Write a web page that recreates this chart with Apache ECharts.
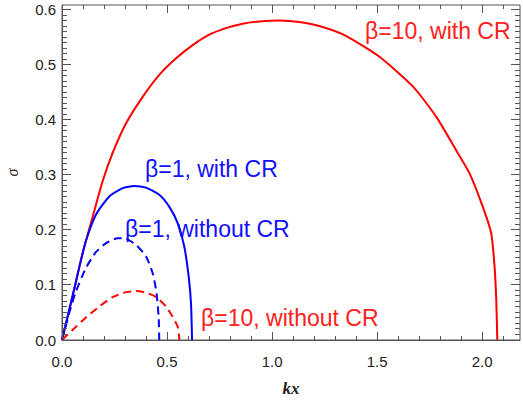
<!DOCTYPE html>
<html>
<head>
<meta charset="utf-8">
<script src="https://cdn.jsdelivr.net/npm/echarts@6/dist/echarts.min.js"></script>
<style>
  html, body { margin: 0; padding: 0; background: #fff; }
  #main { width: 523px; height: 403px; }
</style>
</head>
<body>
<div id="main"></div>
<script>
// values
var xTicks = [0.0, 0.5, 1.0, 1.5, 2.0];
var yTicks = [0.0, 0.1, 0.2, 0.3, 0.4, 0.5, 0.6];

var b10CR_x = [0, 0.035, 0.065, 0.098, 0.146, 0.193, 0.241, 0.305, 0.384, 0.463, 0.543, 0.622, 0.701, 0.780, 0.860, 0.940, 1.035, 1.13, 1.24, 1.351, 1.511, 1.670, 1.781, 1.876, 1.940, 2.003, 2.043, 2.059, 2.067, 2.072];
var b10CR_y = [0, 0.055, 0.103, 0.158, 0.224, 0.288, 0.340, 0.394, 0.442, 0.482, 0.512, 0.536, 0.555, 0.567, 0.575, 0.579, 0.581, 0.578, 0.569, 0.553, 0.515, 0.461, 0.406, 0.345, 0.303, 0.242, 0.194, 0.133, 0.073, 0];

var b1CR_x = [0, 0.050, 0.082, 0.114, 0.162, 0.225, 0.289, 0.344, 0.400, 0.463, 0.511, 0.551, 0.582, 0.603, 0.614, 0.619];
var b1CR_y = [0, 0.080, 0.132, 0.180, 0.228, 0.261, 0.276, 0.280, 0.277, 0.264, 0.242, 0.212, 0.170, 0.115, 0.067, 0];

var b1No_x = [0, 0.035, 0.066, 0.114, 0.162, 0.210, 0.265, 0.305, 0.352, 0.400, 0.432, 0.450, 0.460, 0.463];
var b1No_y = [0, 0.050, 0.088, 0.131, 0.160, 0.176, 0.185, 0.184, 0.173, 0.152, 0.121, 0.085, 0.042, 0];

var b10No_x = [0, 0.050, 0.114, 0.178, 0.241, 0.305, 0.352, 0.400, 0.448, 0.495, 0.527, 0.551, 0.559];
var b10No_y = [0, 0.018, 0.041, 0.061, 0.078, 0.087, 0.089, 0.086, 0.078, 0.061, 0.042, 0.024, 0];

var XMAX = 2.18, YMAX = 0.609;
var frameColor = '#555';

// minor tick positions (every 0.1 on x, every 0.01 on y)
var xMinor = [], yMinor = [];
for (var i = 0; i <= 21; i++) xMinor.push(i / 10);
for (var j = 0; j <= 60; j++) yMinor.push(j / 100);

function pairs(xs, ys) {
    var out = [];
    for (var i = 0; i < xs.length; i++) out.push([xs[i], ys[i]]);
    return out;
}
function isMajor(v, list) {
    for (var i = 0; i < list.length; i++) {
        if (Math.abs(list[i] - v) < 1e-6) return true;
    }
    return false;
}
function fmt(list) {
    return function (v) {
        for (var i = 0; i < list.length; i++) {
            if (Math.abs(list[i] - v) < 1e-6) return list[i].toFixed(1);
        }
        return '';
    };
}

function line(name, xs, ys, color, dashed) {
    return {
        name: name, type: 'line', xAxisIndex: 0, yAxisIndex: 0,
        data: pairs(xs, ys), showSymbol: false, smooth: 0.2,
        lineStyle: { color: color, width: 2, type: dashed ? [8, 5] : 'solid' },
        itemStyle: { color: color }, z: 3
    };
}

// inward ticks on all four sides, drawn through the axis scales
function tickSeries(values, isX) {
    return {
        type: 'custom', xAxisIndex: 0, yAxisIndex: 0, silent: true, clip: false, z: 4,
        data: values.map(function (v) { return isX ? [v, 0] : [0, v]; }),
        encode: { x: 0, y: 1 },
        renderItem: function (params, api) {
            var v = isX ? api.value(0) : api.value(1);
            var fill = { fill: frameColor };
            if (isX) {
                var len = isMajor(v, xTicks) ? 8 : 4;
                var pb = api.coord([v, 0]);
                var pt = api.coord([v, YMAX]);
                var px = Math.floor(pb[0]);
                return { type: 'group', children: [
                    { type: 'rect', shape: { x: px, y: pb[1] - len, width: 1, height: len }, style: fill },
                    { type: 'rect', shape: { x: px, y: pt[1], width: 1, height: len }, style: fill }
                ] };
            }
            var ylen = isMajor(v, yTicks) ? 9 : 5;
            var pl = api.coord([0, v]);
            var pr = api.coord([XMAX, v]);
            var py = Math.floor(pl[1]);
            return { type: 'group', children: [
                { type: 'rect', shape: { x: pl[0], y: py, width: ylen, height: 1 }, style: fill },
                { type: 'rect', shape: { x: pr[0] - ylen, y: py, width: ylen, height: 1 }, style: fill }
            ] };
        }
    };
}

var myChart = echarts.init(document.getElementById('main'), null, { renderer: 'svg' });
var option = {
    animation: false,
    grid: {
        left: 62, right: 3, top: 5, bottom: 63, containLabel: false, outerBoundsMode: 'none',
        show: true, borderColor: frameColor, borderWidth: 1, backgroundColor: 'transparent'
    },
    xAxis: {
        type: 'value', min: 0, max: XMAX, interval: 0.5,
        axisLine: { show: true, onZero: false, lineStyle: { color: frameColor, width: 1 } },
        axisTick: { show: false },
        axisLabel: { show: true, margin: 14, fontSize: 15, color: '#222', fontFamily: 'Liberation Sans', showMaxLabel: false, formatter: fmt(xTicks) },
        splitLine: { show: false },
        name: 'kx', nameLocation: 'middle', nameGap: 40,
        nameTextStyle: { fontFamily: 'Liberation Serif', fontStyle: 'italic', fontWeight: 'bold', fontSize: 17, color: '#222' }
    },
    yAxis: {
        type: 'value', min: 0, max: YMAX, interval: 0.1,
        axisLine: { show: true, onZero: false, lineStyle: { color: frameColor, width: 1 } },
        axisTick: { show: false },
        axisLabel: { show: true, margin: 6, fontSize: 15, color: '#222', fontFamily: 'Liberation Sans', showMaxLabel: false, formatter: fmt(yTicks) },
        splitLine: { show: false },
        name: 'σ', nameLocation: 'middle', nameRotate: 90, nameGap: 42,
        nameTextStyle: { fontFamily: 'Liberation Serif', fontStyle: 'italic', fontSize: 16, color: '#222' }
    },
    series: [
        line('β=10, with CR', b10CR_x, b10CR_y, '#ff0000', false),
        line('β=1, with CR', b1CR_x, b1CR_y, '#0000ff', false),
        line('β=1, without CR', b1No_x, b1No_y, '#0000ff', true),
        line('β=10, without CR', b10No_x, b10No_y, '#ff0000', true),
        tickSeries(xMinor, true),
        tickSeries(yMinor, false)
    ],
    graphic: [
        { type: 'text', left: 365, top: 19, style: { text: 'β=10, with CR', fill: '#ff2020', font: '23px "Liberation Sans"' } },
        { type: 'text', left: 145, top: 157, style: { text: 'β=1, with CR', fill: '#1010ff', font: '23px "Liberation Sans"' } },
        { type: 'text', left: 125, top: 217, style: { text: 'β=1, without CR', fill: '#1010ff', font: '23px "Liberation Sans"' } },
        { type: 'text', left: 201, top: 306, style: { text: 'β=10, without CR', fill: '#ff2020', font: '23px "Liberation Sans"' } }
    ]
};
myChart.setOption(option);
myChart.getZr().refreshImmediately();
</script>
</body>
</html>
